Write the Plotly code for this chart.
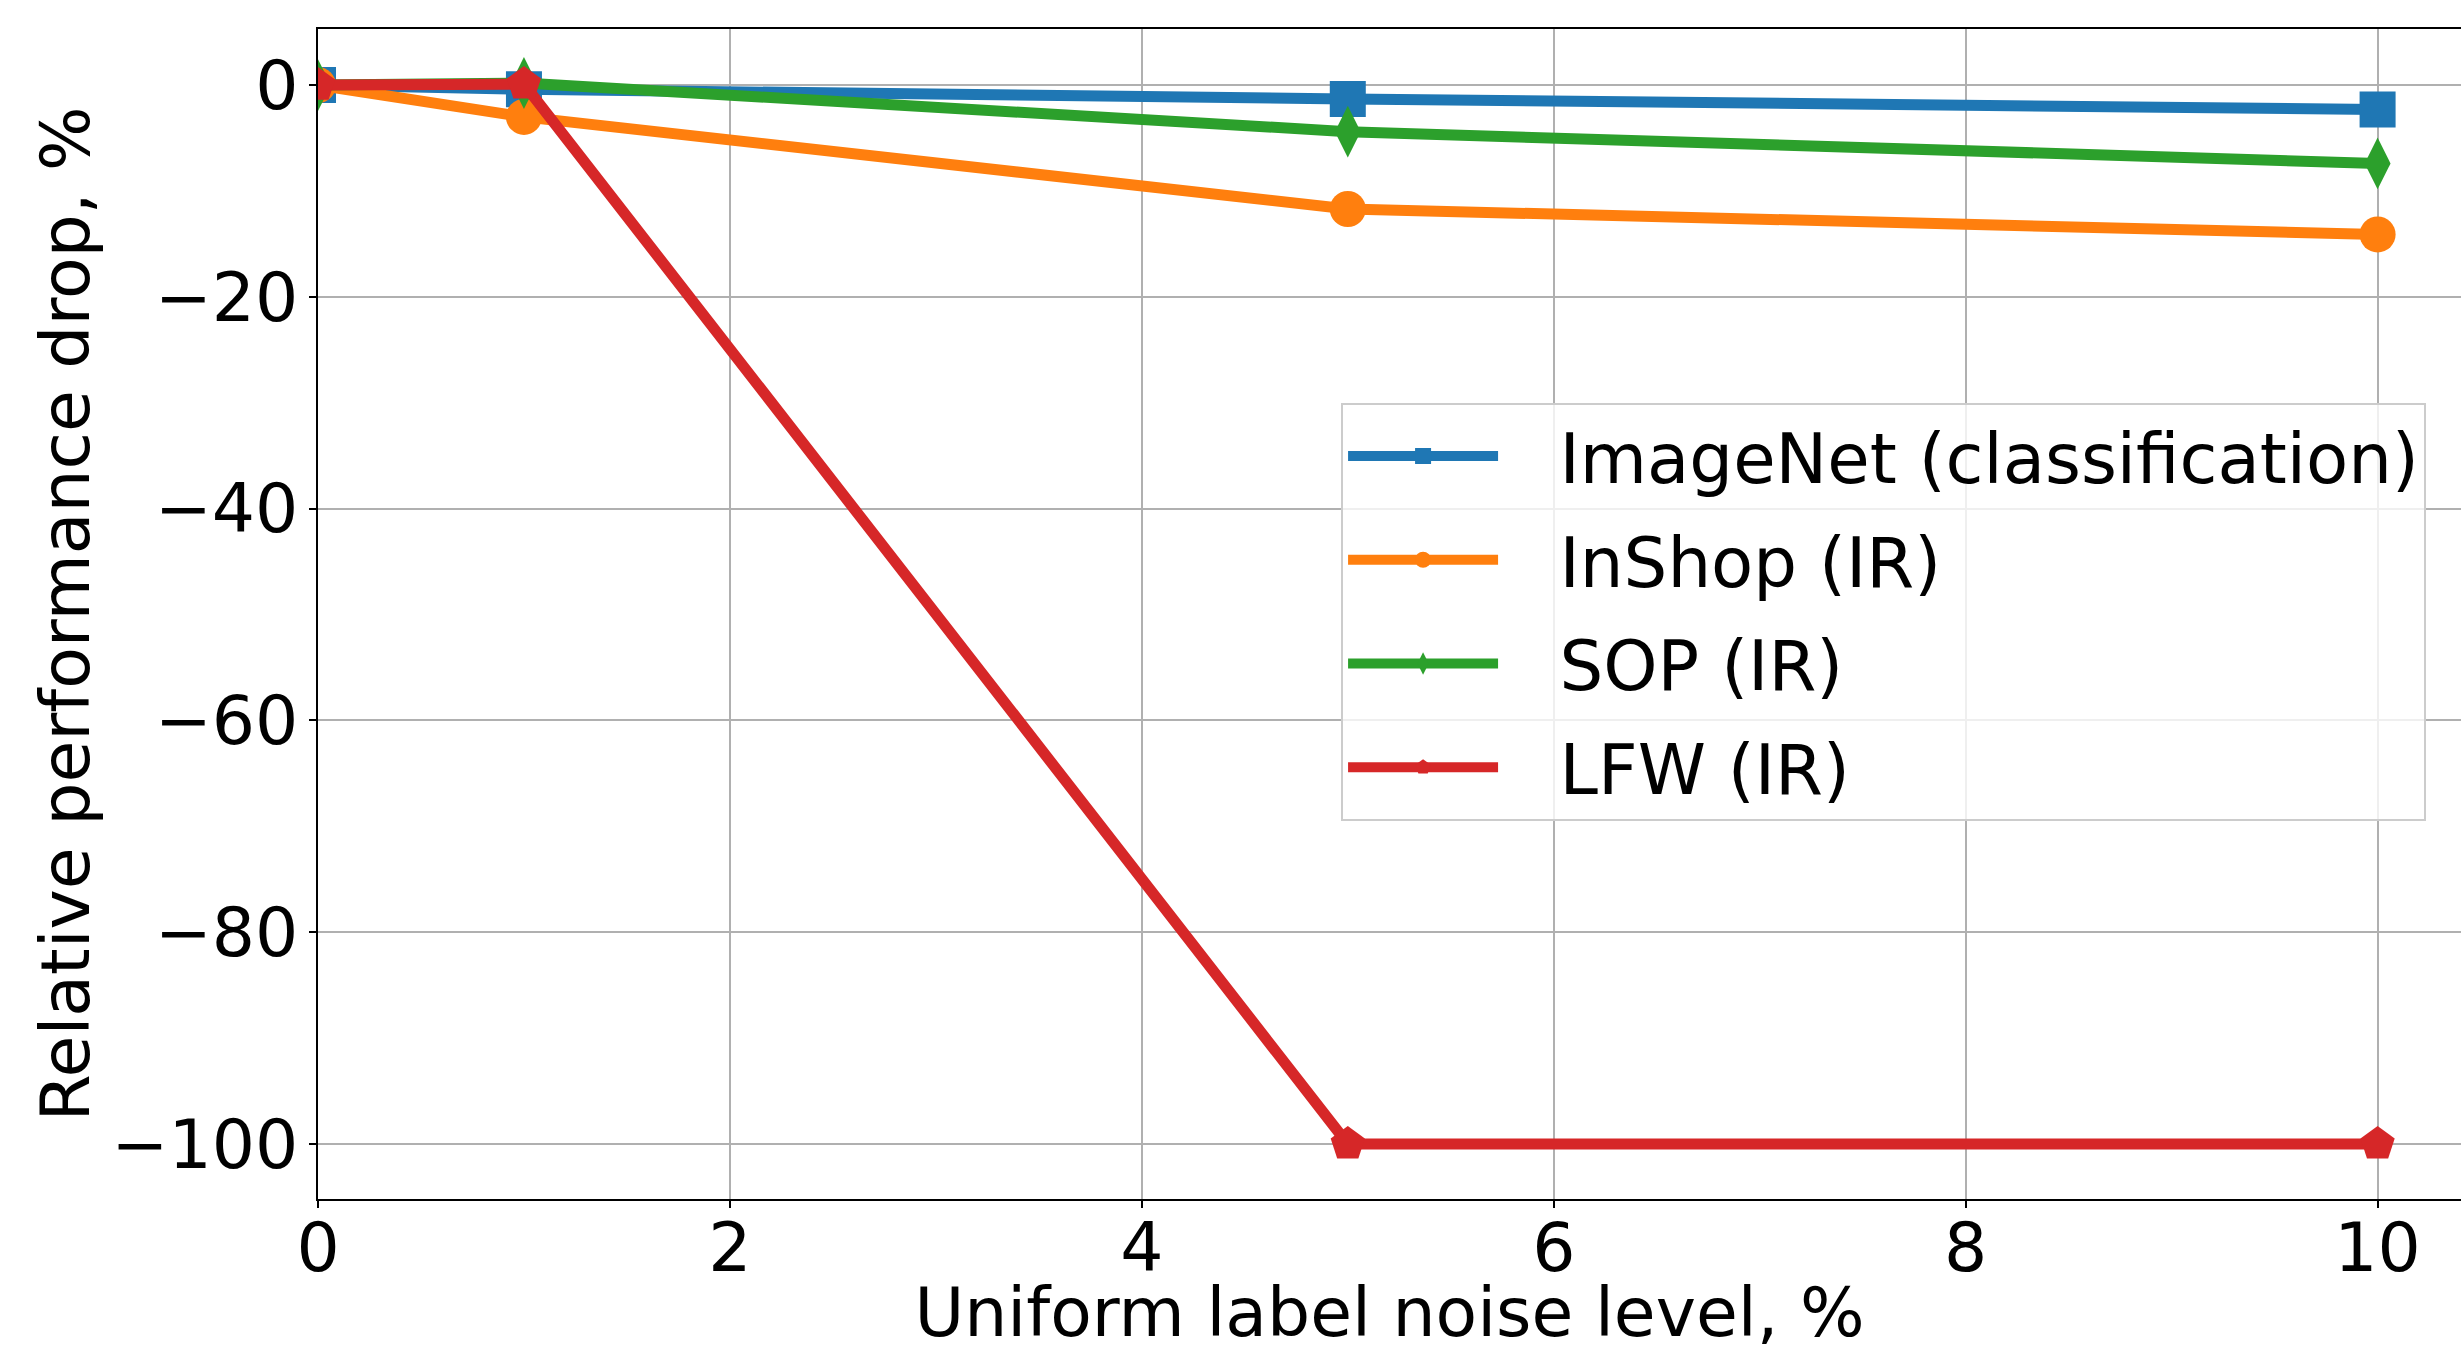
import plotly.graph_objects as go

# ---- data ----
noise_levels = [0, 1, 5, 10]
imagenet = [0.0, -0.4, -1.3, -2.3]
inshop = [0.0, -3.0, -11.7, -14.1]
sop = [0.0, 0.2, -4.4, -7.4]
lfw = [0.0, 0.1, -100.0, -100.0]

series_names = ["ImageNet (classification)", "InShop (IR)", "SOP (IR)", "LFW (IR)"]
series_values = [imagenet, inshop, sop, lfw]
series_colors = ["#1f77b4", "#ff7f0e", "#2ca02c", "#d62728"]
series_symbols = ["square", "circle", "diamond-tall", "pentagon"]
series_sizes = [36, 36, 37, 36]

x_ticks = [0, 2, 4, 6, 8, 10]
y_ticks = [0, -20, -40, -60, -80, -100]

FONT = "DejaVu Sans"
FS = 68
LEGEND_PAD = "\u2002\u00a0"  # gap between legend sample and label

fig = go.Figure()
for name, vals, col, sym, sz in zip(series_names, series_values, series_colors,
                                     series_symbols, series_sizes):
    fig.add_trace(go.Scatter(
        x=noise_levels, y=vals, name=LEGEND_PAD + name, mode="lines+markers",
        legendgroup=name,
        line=dict(color=col, width=11),
        marker=dict(symbol=sym, size=sz, color=col, line=dict(width=0)),
    ))

fig.update_layout(
    width=2461, height=1352,
    margin=dict(l=318, r=0, t=29, b=153, pad=0),
    plot_bgcolor="white", paper_bgcolor="white",
    font=dict(family=FONT, size=FS, color="black"),
    showlegend=True,
    legend=dict(
        x=0.4774, y=0.6806, xanchor="left", yanchor="top",
        bgcolor="rgba(255,255,255,0.8)", bordercolor="#cccccc", borderwidth=2,
        font=dict(family=FONT, size=69, color="black"),
        tracegroupgap=11, itemwidth=150,
    ),
    xaxis=dict(
        range=[0, 10.405], tickmode="array", tickvals=x_ticks,
        showgrid=True, gridcolor="#b0b0b0", gridwidth=2,
        showline=True, linecolor="black", linewidth=2, mirror=True,
        ticks="outside", ticklen=7, tickwidth=2, tickcolor="black",
        ticklabelstandoff=-19,
        zeroline=False, automargin=False,
        title=dict(text="Uniform label noise level, %", standoff=35,
                   font=dict(family=FONT, size=FS)),
    ),
    yaxis=dict(
        range=[-105.2, 5.3], tickmode="array", tickvals=y_ticks,
        showgrid=True, gridcolor="#b0b0b0", gridwidth=2,
        showline=True, linecolor="black", linewidth=2, mirror=False,
        ticks="outside", ticklen=7, tickwidth=2, tickcolor="black",
        ticklabelstandoff=-3,
        zeroline=False, automargin=False,
        title=dict(text="Relative performance drop, %", standoff=0,
                   font=dict(family=FONT, size=FS)),
    ),
)

fig.write_html("out.html",
               config={"displayModeBar": False},
               post_script="document.body.style.margin='0';document.body.style.overflow='hidden';")
